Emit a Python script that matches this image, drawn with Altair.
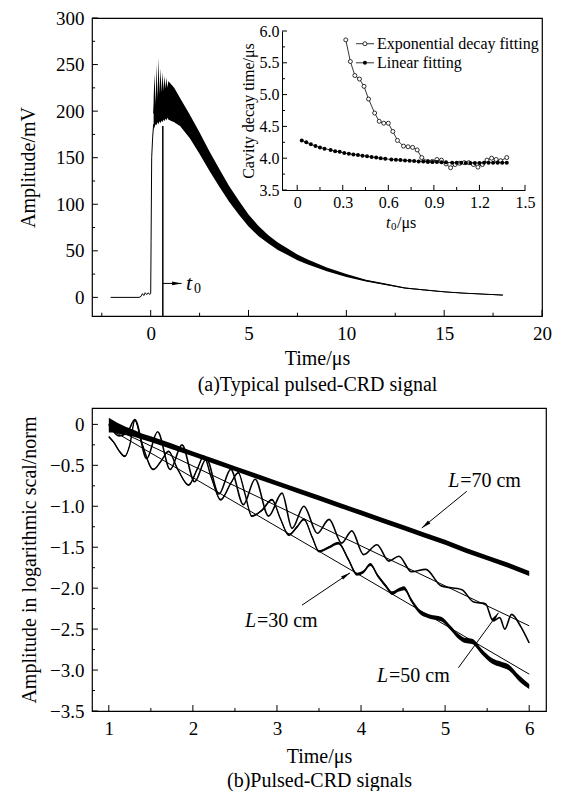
import altair as alt
import pandas as pd

FONT = "Liberation Serif"

# ---------------- (a) Typical pulsed-CRD signal ----------------
pre_t = [-2.05, -0.60, -0.50, -0.42, -0.35, -0.28, -0.20, -0.12, -0.05, 0.00, 0.02, 0.05, 0.10, 0.15]
pre_a = [0, 0, 1, 4, 2, 5, 3, 5, 3, 4, 60, 150, 172, 186]

env_t = [0.15, 0.20, 0.25, 0.30, 0.35, 0.40, 0.45, 0.50, 0.55, 0.60, 0.65, 0.70, 0.75, 0.80, 0.85, 0.90,
         1.0, 1.2, 1.5, 2.0, 2.5, 3.0, 3.5, 4.0, 4.5, 5.0, 5.5, 6.0, 6.5, 7.0, 7.5, 8.0,
         9.0, 10.0, 11.0, 12.0, 13.0, 14.0, 15.0, 16.0, 17.0, 18.0]
env_lo = [180, 183, 186, 185, 188, 186, 189, 187, 190, 188, 191, 189, 192, 190, 193, 191,
          190, 188, 184, 171, 154, 136, 119, 103, 89, 76, 66, 58, 51, 45.5, 40, 35.5,
          28, 22, 17, 13.2, 9.4, 7.5, 5.6, 4.1, 3.1, 2.1]
env_hi = [215, 240, 205, 250, 212, 257, 218, 246, 220, 242, 222, 238, 224, 236, 225, 232,
          230, 225, 214, 196, 177, 157, 138, 120, 104, 89, 77, 67, 59, 52.5, 46, 41,
          32, 25, 19, 14.8, 10.6, 8.5, 6.4, 4.9, 3.9, 2.9]

t0_pos = 0.62
t0_top = 184

a_xmajor = [0, 5, 10, 15, 20]
a_xminor = [-2.5, 2.5, 7.5, 12.5, 17.5]
a_ymajor = [0, 50, 100, 150, 200, 250, 300]
a_yminor = [25, 75, 125, 175, 225, 275]

# inset: cavity decay time vs t0
exp_x = [0.32, 0.35, 0.38, 0.41, 0.44, 0.47, 0.51, 0.54, 0.57, 0.60, 0.63, 0.66, 0.70, 0.73, 0.76, 0.79,
         0.82, 0.86, 0.89, 0.92, 0.95, 0.98, 1.01, 1.04, 1.07, 1.10, 1.13, 1.16, 1.19, 1.22, 1.25, 1.28,
         1.31, 1.34, 1.38]
exp_y = [5.86, 5.52, 5.30, 5.245, 5.13, 4.93, 4.71, 4.58, 4.55, 4.55, 4.42, 4.28, 4.19, 4.18, 4.17, 4.13,
         4.01, 3.95, 3.95, 3.98, 3.97, 3.91, 3.85, 3.90, 3.92, 3.93, 3.93, 3.90, 3.86, 3.90, 3.97, 4.00,
         3.98, 3.96, 4.01]
lin_x = [0.03, 0.06, 0.09, 0.12, 0.15, 0.18, 0.22, 0.25, 0.28, 0.31, 0.34, 0.37, 0.40, 0.43, 0.46,
         0.49, 0.52, 0.55, 0.58, 0.62, 0.65, 0.68, 0.71, 0.74, 0.77, 0.80, 0.83, 0.86, 0.89, 0.92,
         0.95, 0.98, 1.02, 1.05, 1.08, 1.11, 1.14, 1.17, 1.20, 1.23, 1.26, 1.29, 1.32, 1.35, 1.38]
lin_y = [4.28, 4.25, 4.22, 4.19, 4.17, 4.15, 4.13, 4.11, 4.10, 4.08, 4.07, 4.06, 4.05, 4.04, 4.03,
         4.02, 4.01, 4.00, 3.99, 3.98, 3.975, 3.97, 3.965, 3.96, 3.955, 3.95, 3.95, 3.945, 3.94, 3.94,
         3.935, 3.935, 3.93, 3.93, 3.93, 3.925, 3.925, 3.925, 3.925, 3.93, 3.93, 3.93, 3.93, 3.93, 3.93]
in_xmajor = [0, 0.3, 0.6, 0.9, 1.2, 1.5]
in_xminor = [0.15, 0.45, 0.75, 1.05, 1.35]
in_ymajor = [3.5, 4.0, 4.5, 5.0, 5.5, 6.0]
in_yminor = [3.75, 4.25, 4.75, 5.25, 5.75]
legend_names = ["Exponential decay fitting", "Linear fitting"]

# ---------------- (b) Pulsed-CRD signals ----------------
l70_x = [1.00, 1.05, 1.10, 1.20, 1.30, 1.40, 1.50, 1.75, 2.00, 2.25, 2.50, 2.75, 3.00, 3.25, 3.50,
         3.75, 4.00, 4.25, 4.50, 4.75, 5.00, 5.25, 5.50, 5.75, 6.00]
l70_lo = [-0.10, -0.10, -0.11, -0.13, -0.15, -0.185, -0.215, -0.305, -0.39, -0.48, -0.57, -0.66,
          -0.75, -0.84, -0.93, -1.02, -1.11, -1.20, -1.29, -1.38, -1.47, -1.57, -1.66, -1.75, -1.85]
l70_hi = [0.08, 0.05, 0.02, -0.03, -0.07, -0.115, -0.145, -0.235, -0.33, -0.42, -0.51, -0.60,
          -0.69, -0.78, -0.87, -0.96, -1.05, -1.14, -1.23, -1.32, -1.41, -1.51, -1.60, -1.69, -1.79]

l50_x = [1.00, 1.12, 1.22, 1.31, 1.45, 1.58, 1.73, 1.87, 2.02, 2.16, 2.31, 2.45, 2.60, 2.74, 2.90,
         3.06, 3.18, 3.32, 3.48, 3.62, 3.77, 3.89, 4.03, 4.19, 4.33, 4.45, 4.60, 4.77, 4.95, 5.20,
         5.34, 5.48, 5.57, 5.65, 5.71, 5.79, 5.90, 6.00]
l50_y = [0.00, -0.14, -0.10, 0.06, -0.42, -0.09, -0.55, -0.25, -0.70, -0.42, -0.85, -0.55, -0.98, -0.67, -1.12,
         -0.84, -1.27, -1.00, -1.33, -1.16, -1.45, -1.30, -1.59, -1.47, -1.67, -1.61, -1.80, -1.77, -1.97, -2.02,
         -2.17, -2.19, -2.40, -2.36, -2.50, -2.32, -2.47, -2.67]

l30_x = [1.00, 1.06, 1.12, 1.19, 1.25, 1.31, 1.40, 1.53, 1.62, 1.71, 1.82, 1.95, 2.05, 2.13, 2.22, 2.33,
         2.45, 2.54, 2.62, 2.70, 2.82, 2.94, 3.04, 3.14, 3.24, 3.32, 3.42, 3.50, 3.62, 3.73, 3.85, 3.95,
         4.03, 4.11, 4.20, 4.30, 4.37, 4.45, 4.51, 4.60, 4.69, 4.80, 4.96, 5.06, 5.16, 5.24, 5.32, 5.44,
         5.56, 5.66, 5.76, 5.88, 6.00]
l30_y = [-0.15, -0.22, -0.32, -0.39, -0.25, 0.05, -0.25, -0.55, -0.45, -0.33, -0.55, -0.74, -0.55, -0.39,
         -0.65, -0.92, -0.72, -0.59, -0.85, -1.12, -1.05, -0.92, -1.15, -1.35, -1.25, -1.16, -1.38, -1.55,
         -1.50, -1.45, -1.65, -1.83, -1.80, -1.71, -1.85, -1.98, -2.06, -2.02, -2.00, -2.15, -2.28, -2.34,
         -2.38, -2.48, -2.59, -2.64, -2.65, -2.78, -2.89, -2.93, -2.97, -3.10, -3.20]
l30_noise = [0.01, 0.01, 0.01, 0.01, 0.01, 0.01, 0.01, 0.01, 0.01, 0.01, 0.01, 0.01, 0.01, 0.01, 0.01, 0.01,
             0.01, 0.01, 0.01, 0.01, 0.012, 0.012, 0.012, 0.012, 0.014, 0.014, 0.014, 0.014, 0.016, 0.016, 0.018, 0.018,
             0.018, 0.018, 0.02, 0.02, 0.022, 0.022, 0.024, 0.024, 0.026, 0.026, 0.028, 0.028, 0.03, 0.03, 0.032, 0.032,
             0.034, 0.034, 0.036, 0.036, 0.03]

fit_x = [1.0, 6.0]
fit70 = [0.00, -1.82]
fit50 = [-0.02, -2.46]
fit30 = [-0.05, -3.05]

b_xmajor = [1, 2, 3, 4, 5, 6]
b_xminor = [1.5, 2.5, 3.5, 4.5, 5.5]
b_ymajor = [0, -0.5, -1.0, -1.5, -2.0, -2.5, -3.0, -3.5]
b_yminor = [-0.25, -0.75, -1.25, -1.75, -2.25, -2.75, -3.25]

ARROW = "M0,0L-0.4,2L0.4,2Z"


def lab_axis(values, title, label_expr=None, **kw):
    d = dict(values=values, ticks=False, domain=False, grid=False, labelFont=FONT, labelFontSize=19,
             labelColor="black", labelFlush=False, labelOverlap=False, labelPadding=8,
             title=title, titleFont=FONT, titleFontSize=20, titleFontWeight="normal", titleColor="black")
    if label_expr:
        d["labelExpr"] = label_expr
    d.update(kw)
    return alt.Axis(**d)


class Frame:
    """Shared scales + axes for one group of layers."""
    def __init__(self, sx, sy, ax, ay):
        self.sx, self.sy, self.ax, self.ay = sx, sy, ax, ay

    def X(self, f):
        return alt.X(f, scale=self.sx, axis=self.ax)

    def Y(self, f):
        return alt.Y(f, scale=self.sy, axis=self.ay)


def xticks(F, majors, minors, base, lmaj, lmin):
    df = pd.DataFrame({"v": majors + minors, "y0": [base] * (len(majors) + len(minors)),
                       "y1": [base + lmaj] * len(majors) + [base + lmin] * len(minors)})
    return alt.Chart(df).mark_rule(color="black", strokeWidth=1).encode(
        x=F.X("v:Q"), y=F.Y("y0:Q"), y2="y1:Q")


def yticks(F, majors, minors, base, lmaj, lmin):
    df = pd.DataFrame({"v": majors + minors, "x0": [base] * (len(majors) + len(minors)),
                       "x1": [base + lmaj] * len(majors) + [base + lmin] * len(minors)})
    return alt.Chart(df).mark_rule(color="black", strokeWidth=1).encode(
        y=F.Y("v:Q"), x=F.X("x0:Q"), x2="x1:Q")


def txt(F, x, y, text, size=20, style="normal", align="left", dx=0, dy=0):
    return alt.Chart(pd.DataFrame({"x": [x], "y": [y]})).mark_text(
        text=text, font=FONT, fontSize=size, fontStyle=style, align=align, baseline="middle",
        dx=dx, dy=dy, color="black").encode(x=F.X("x:Q"), y=F.Y("y:Q"))


def arrow(F, x0, y0, x1, y1, angle):
    line = alt.Chart(pd.DataFrame({"x": [x0], "y": [y0], "x2": [x1], "y2": [y1]})).mark_rule(
        color="black", strokeWidth=1).encode(x=F.X("x:Q"), y=F.Y("y:Q"), x2="x2:Q", y2="y2:Q")
    head = alt.Chart(pd.DataFrame({"x": [x1], "y": [y1]})).mark_point(
        shape=ARROW, size=90, filled=True, color="black", opacity=1, angle=angle).encode(
        x=F.X("x:Q"), y=F.Y("y:Q"))
    return [line, head]


# ======== panel (a) ========
W1, H1 = 450, 298
FA = Frame(alt.Scale(domain=[-3, 20], nice=False, zero=False),
           alt.Scale(domain=[-20, 300], nice=False, zero=False),
           lab_axis(a_xmajor, ["Time/μs", "(a)Typical pulsed-CRD signal"], titlePadding=5, titleLineHeight=26),
           lab_axis(a_ymajor, "Amplitude/mV", titlePadding=17))

df_env = pd.DataFrame({"t": env_t, "lo": env_lo, "hi": env_hi})
df_env["mid"] = (df_env["lo"] + df_env["hi"]) / 2
df_pre = pd.DataFrame({"t": pre_t, "a": pre_a})

band_a = alt.Chart(df_env).mark_area(color="black", opacity=1).encode(
    x=FA.X("t:Q"), y=FA.Y("lo:Q"), y2="hi:Q")
mid_a = alt.Chart(df_env).mark_line(color="black", strokeWidth=1).encode(x=FA.X("t:Q"), y=FA.Y("mid:Q"))
pre_line = alt.Chart(df_pre).mark_line(color="black", strokeWidth=1).encode(x=FA.X("t:Q"), y=FA.Y("a:Q"))
t0_line = alt.Chart(pd.DataFrame({"t": [t0_pos], "a0": [-20], "a1": [t0_top]})).mark_rule(
    color="black", strokeWidth=1.5).encode(x=FA.X("t:Q"), y=FA.Y("a0:Q"), y2="a1:Q")

main_layers = [band_a, mid_a, pre_line, t0_line,
               xticks(FA, a_xmajor, a_xminor, -20, 6.5, 3.5),
               yticks(FA, a_ymajor, a_yminor, -3, 0.3, 0.16)]
main_layers += arrow(FA, t0_pos, 15, 1.58, 15, 90)
main_layers += [txt(FA, 1.8, 15, "t", size=22, style="italic"),
                txt(FA, 1.8, 15, "0", size=14, dx=8, dy=6)]
main_a = alt.layer(*main_layers)

# inset
IN_BOTTOM, IN_TOP, IN_LEFT, IN_RIGHT = 172, 13, 190, 433
ax_in_x = alt.Axis(orient="bottom", offset=-(H1 - IN_BOTTOM), values=in_xmajor,
                   labelExpr="datum.value == 0 ? '0' : format(datum.value, '.1f')",
                   ticks=False, domain=True, domainColor="black", domainWidth=1, grid=False,
                   labelFont=FONT, labelFontSize=16, labelColor="black", labelPadding=4,
                   labelFlush=False, labelOverlap=False, title=None)
ax_in_y = alt.Axis(orient="left", offset=-IN_LEFT, values=in_ymajor,
                   labelExpr="format(datum.value, '.1f')",
                   ticks=False, domain=True, domainColor="black", domainWidth=1, grid=False,
                   labelFont=FONT, labelFontSize=16, labelColor="black", labelPadding=3,
                   labelFlush=False, labelOverlap=False,
                   title="Cavity decay time/μs", titleFont=FONT, titleFontSize=16,
                   titleFontWeight="normal", titleColor="black", titlePadding=3)
FI = Frame(alt.Scale(domain=[-0.1, 1.5], range=[IN_LEFT, IN_RIGHT], nice=False, zero=False),
           alt.Scale(domain=[3.5, 6.0], range=[IN_BOTTOM, IN_TOP], nice=False, zero=False),
           ax_in_x, ax_in_y)

df_exp = pd.DataFrame({"x": exp_x, "y": exp_y})
df_lin = pd.DataFrame({"x": lin_x, "y": lin_y})

exp_line = alt.Chart(df_exp).mark_line(color="black", strokeWidth=0.8).encode(x=FI.X("x:Q"), y=FI.Y("y:Q"))
exp_pts = alt.Chart(df_exp).mark_circle(fill="white", stroke="black", strokeWidth=0.8, size=16, opacity=1).encode(
    x=FI.X("x:Q"), y=FI.Y("y:Q"))
lin_line = alt.Chart(df_lin).mark_line(color="black", strokeWidth=0.8).encode(x=FI.X("x:Q"), y=FI.Y("y:Q"))
lin_pts = alt.Chart(df_lin).mark_circle(color="black", size=16, opacity=1).encode(x=FI.X("x:Q"), y=FI.Y("y:Q"))

leg_line = alt.Chart(pd.DataFrame({"x": [0.387, 0.387], "x2": [0.506, 0.506], "y": [5.80, 5.50]})).mark_rule(
    color="black", strokeWidth=0.8).encode(x=FI.X("x:Q"), x2="x2:Q", y=FI.Y("y:Q"))
leg_exp = alt.Chart(pd.DataFrame({"x": [0.446], "y": [5.80]})).mark_circle(
    fill="white", stroke="black", strokeWidth=0.8, size=16, opacity=1).encode(x=FI.X("x:Q"), y=FI.Y("y:Q"))
leg_lin = alt.Chart(pd.DataFrame({"x": [0.446], "y": [5.50]})).mark_circle(
    color="black", size=16, opacity=1).encode(x=FI.X("x:Q"), y=FI.Y("y:Q"))

inset_layers = [exp_line, lin_line, exp_pts, lin_pts, leg_line, leg_exp, leg_lin,
                txt(FI, 0.525, 5.80, legend_names[0], size=16),
                txt(FI, 0.525, 5.50, legend_names[1], size=16),
                xticks(FI, in_xmajor, in_xminor, 3.5, 0.08, 0.047),
                yticks(FI, in_ymajor, in_yminor, -0.1, 0.033, 0.02),
                txt(FI, 0.664, 2.98, "t", size=16, style="italic", dx=-12),
                txt(FI, 0.664, 2.98, "0", size=11, dx=-7, dy=4),
                txt(FI, 0.664, 2.98, "/μs", size=16, dx=-1)]
inset = alt.layer(*inset_layers)

top = alt.layer(main_a, inset).resolve_scale(x="independent", y="independent").properties(width=W1, height=H1)

# ======== panel (b) ========
W2, H2 = 454, 303
lab_expr_b = "datum.value == 0 ? '0' : format(datum.value, '.1f')"
FB = Frame(alt.Scale(domain=[0.8, 6.2], nice=False, zero=False),
           alt.Scale(domain=[-3.5, 0.2], nice=False, zero=False),
           lab_axis(b_xmajor, ["Time/μs", "(b)Pulsed-CRD signals"], titlePadding=8, titleLineHeight=24),
           lab_axis(b_ymajor, "Amplitude in logarithmic scal/norm", label_expr=lab_expr_b, titlePadding=10))

df70 = pd.DataFrame({"x": l70_x, "lo": l70_lo, "hi": l70_hi})
df50 = pd.DataFrame({"x": l50_x, "y": l50_y})
df30 = pd.DataFrame({"x": l30_x, "y": l30_y, "n": l30_noise})
df30["lo"] = df30["y"] - df30["n"]
df30["hi"] = df30["y"] + df30["n"]
dffit = pd.DataFrame({"x": fit_x * 3, "y": fit70 + fit50 + fit30, "g": ["70"] * 2 + ["50"] * 2 + ["30"] * 2})

band70 = alt.Chart(df70).mark_area(color="black", opacity=1).encode(x=FB.X("x:Q"), y=FB.Y("lo:Q"), y2="hi:Q")
fits = alt.Chart(dffit).mark_line(color="black", strokeWidth=1).encode(
    x=FB.X("x:Q"), y=FB.Y("y:Q"), detail="g:N")
line50 = alt.Chart(df50).mark_line(color="black", strokeWidth=1.6, interpolate="monotone").encode(
    x=FB.X("x:Q"), y=FB.Y("y:Q"))
band30 = alt.Chart(df30).mark_area(color="black", opacity=1, interpolate="monotone").encode(
    x=FB.X("x:Q"), y=FB.Y("lo:Q"), y2="hi:Q")
line30 = alt.Chart(df30).mark_line(color="black", strokeWidth=1.4, interpolate="monotone").encode(
    x=FB.X("x:Q"), y=FB.Y("y:Q"))

b_layers = [band70, fits, line50, band30, line30,
            xticks(FB, b_xmajor, b_xminor, -3.5, 0.073, 0.037),
            yticks(FB, b_ymajor, b_yminor, 0.8, 0.071, 0.036)]
b_layers += arrow(FB, 5.258, -0.817, 4.723, -1.265, 231)
b_layers += arrow(FB, 3.298, -2.207, 3.869, -1.813, 57)
b_layers += arrow(FB, 5.158, -2.972, 5.635, -2.301, 36)
for (lx, ly, rest) in [(5.036, -0.695, "=70 cm"), (2.619, -2.40, "=30 cm"), (4.19, -3.07, "=50 cm")]:
    b_layers.append(txt(FB, lx, ly, "L", size=20, style="italic"))
    b_layers.append(txt(FB, lx, ly, rest, size=20, dx=12))
bottom = alt.layer(*b_layers).properties(width=W2, height=H2)

chart = alt.vconcat(top, bottom, spacing=12).configure_view(
    stroke="black", strokeWidth=1.2).properties(
    padding={"left": 9, "top": 0, "right": 5, "bottom": 0})

chart.save("out.html", embed_options={"renderer": "svg", "actions": False})
